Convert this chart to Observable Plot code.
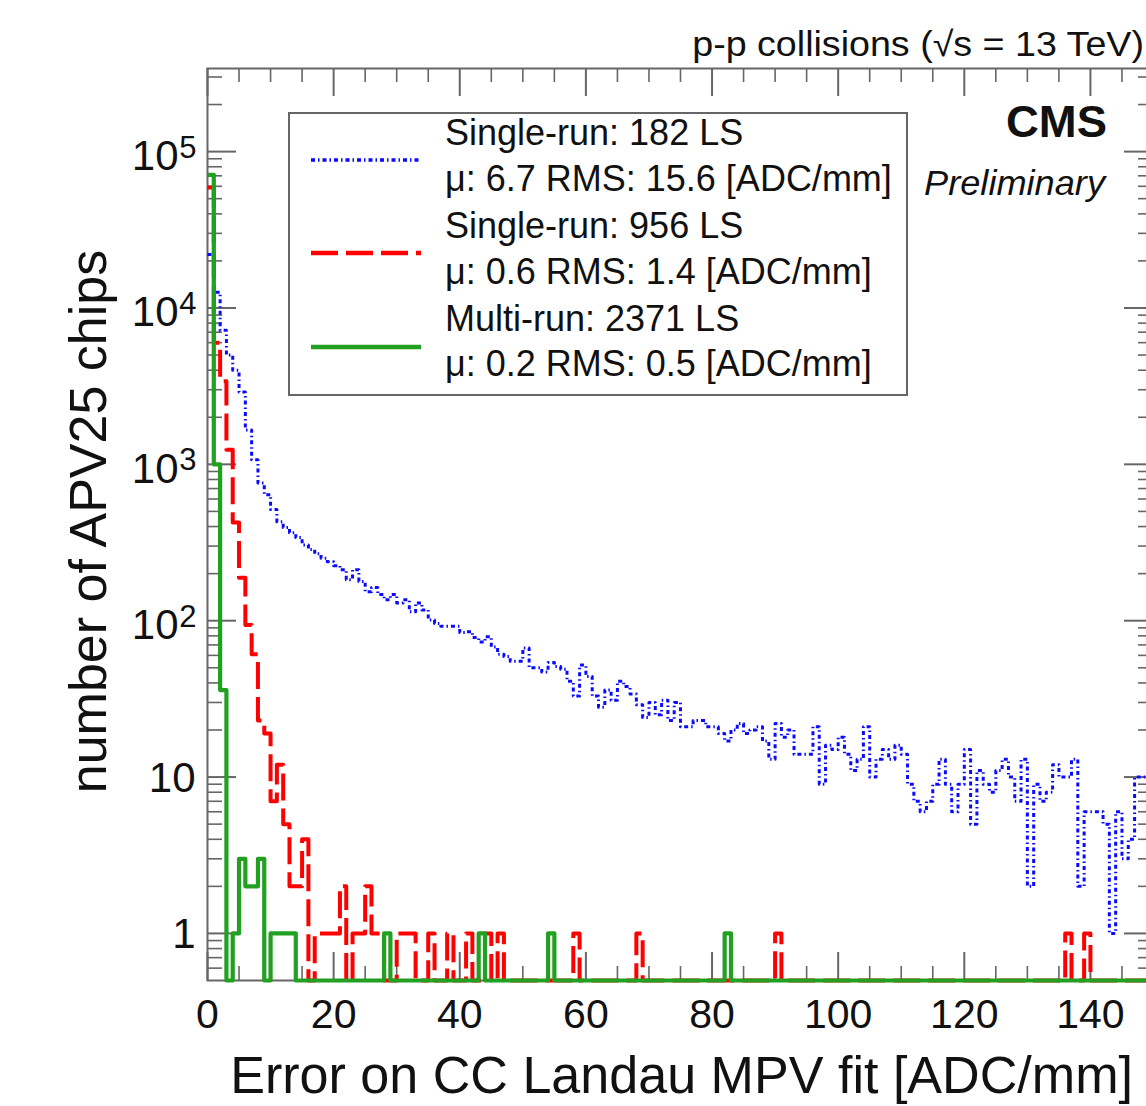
<!DOCTYPE html>
<html><head><meta charset="utf-8">
<script src="https://cdn.jsdelivr.net/npm/d3@7"></script>
<script src="https://cdn.jsdelivr.net/npm/@observablehq/plot@0.6"></script>
<style>
html,body{margin:0;padding:0;background:#fff;}
#chart{width:1146px;height:1106px;overflow:hidden;position:relative;}
</style></head><body><div id="chart"></div>
<script>
// ---------------- data ----------------
const binWidth = 1;          // ADC/mm per bin
const nBins = 150;

const blueCounts = [
  22000,12600,7200,5000,4000,2900,1660,1070,760,640,
  515,430,395,365,340,305,285,268,251,238,
  225,212,183,212,178,153,163,147,136,147,
  130,136,114,130,117,101,96,92,92,92,
  84,85,78,73,79,68,61,59,55,55,
  67,50,50,47,54,51,49,41,33,52,
  44,33,28,36,31,41,38,34,29,24,
  30,25,31,23,30,21,21,23,23,21,
  21,19,17,20,22,19,20,21,17,13,
  22,18,20,14,14,14,21,9,16,15,
  18,14,11,13,21,10,13,15,13,16,
  14,9,7,6,7,9,13,9,6,9,
  15,5,11,9,8,11,13,10,7,13,
  2,9,7,8,12,10,10,13,2,6,
  6,6,5,1,6,3,4,10,10,10
];
const redCounts = [
  59000,6000,3400,1240,425,188,94,61,23,19,
  7,12,5,2,2,4,0,1,1,1,
  1,2,0,1,1,2,1,1,0,0,
  1,1,1,0,0,1,0,0,1,0,
  0,1,0,0,1,0,1,0,0,0,
  0,0,0,0,0,0,0,0,1,0,
  0,0,0,0,0,0,0,0,1,0,
  0,0,0,0,0,0,0,0,0,0,
  0,0,0,0,0,0,0,0,0,0,
  1,0,0,0,0,0,0,0,0,0,
  0,0,0,0,0,0,0,0,0,0,
  0,0,0,0,0,0,0,0,0,0,
  0,0,0,0,0,0,0,0,0,0,
  0,0,0,0,0,0,1,0,0,1,
  0,0,0,0,0,0,0,0,0,0
];
const greenCounts = [
  71000,1000,36,0,1,3,2,2,3,0,
  1,1,1,1,0,0,0,0,0,0,
  0,0,0,0,0,0,0,0,1,0,
  0,0,0,0,0,0,0,0,0,0,
  0,0,0,1,0,0,0,0,0,0,
  0,0,0,0,1,0,0,0,0,0,
  0,0,0,0,0,0,0,0,0,0,
  0,0,0,0,0,0,0,0,0,0,
  0,0,1,0,0,0,0,0,0,0,
  0,0,0,0,0,0,0,0,0,0,
  0,0,0,0,0,0,0,0,0,0,
  0,0,0,0,0,0,0,0,0,0,
  0,0,0,0,0,0,0,0,0,0,
  0,0,0,0,0,0,0,0,0,0,
  0,0,0,0,0,0,0,0,0,0
];

const seriesNames = ["Single-run: 182 LS", "Single-run: 956 LS", "Multi-run: 2371 LS"];
const seriesStats = ["\u03bc: 6.7 RMS: 15.6 [ADC/mm]", "\u03bc: 0.6 RMS: 1.4 [ADC/mm]", "\u03bc: 0.2 RMS: 0.5 [ADC/mm]"];

const xMajorTicks = [0,20,40,60,80,100,120,140];
const xMinorTicks = [5,10,15,25,30,35,45,50,55,65,70,75,85,90,95,105,110,115,125,130,135,145];
const yMajorTicks = [1,10,100,1000,10000,100000];
const yMinorTicks = [0.6,0.7,0.8,0.9,2,3,4,5,6,7,8,9,20,30,40,50,60,70,80,90,
  200,300,400,500,600,700,800,900,2000,3000,4000,5000,6000,7000,8000,9000,
  20000,30000,40000,50000,60000,70000,80000,90000,200000,300000];
const yTickBase = ["1","10","10","10","10","10"];
const yTickExp  = ["","","2","3","4","5"];

const titleText = "p-p collisions (\u221as = 13 TeV)";
const xTitle = "Error on CC Landau MPV fit [ADC/mm]";
const yTitle = "number of APV25 chips";

// ---------------- styles ----------------
const FONT = '"Liberation Sans", Arial, Helvetica, sans-serif';
const styles = [
  {color: "#0a0aff", width: 3,   dash: "4,3,1.5,3"},
  {color: "#ff0000", width: 4,   dash: "27,8"},
  {color: "#22a022", width: 4.2, dash: null}
];
const allCounts = [blueCounts, redCounts, greenCounts];

const W = 1146, H = 1106;
const fL = 207, fR = 1153, fT = 68, fB = 980;
const FW = fR - fL, FH = fB - fT;
const yMin = 0.5, yMax = 3.4e5;

function stepTable(counts) {
  const rows = counts.map((c, i) => ({x: i * binWidth, n: c}));
  rows.push({x: counts.length * binWidth, n: counts[counts.length - 1]});
  return rows;
}
const yOf = d => Math.max(d.n, yMin); // empty bins are drawn on the frame bottom, as ROOT does

const axisColor = "#666";

const plot = Plot.plot({
  width: W, height: H,
  marginLeft: fL, marginRight: W - fR, marginTop: fT, marginBottom: H - fB,
  x: {domain: [0, nBins * binWidth], axis: null},
  y: {type: "log", domain: [yMin, yMax], axis: null},
  style: {fontFamily: FONT, background: "#fff", color: "#000"},
  marks: [
    Plot.frame({stroke: axisColor, strokeWidth: 2}),
    Plot.tickY(yMajorTicks, {y: d => d, stroke: axisColor, strokeWidth: 2, insetRight: FW - 29}),
    Plot.tickY(yMinorTicks, {y: d => d, stroke: axisColor, strokeWidth: 1.6, insetRight: FW - 15}),
    Plot.tickY(yMajorTicks, {y: d => d, stroke: axisColor, strokeWidth: 2, insetLeft: FW - 29}),
    Plot.tickY(yMinorTicks, {y: d => d, stroke: axisColor, strokeWidth: 1.6, insetLeft: FW - 15}),
    Plot.tickX(xMajorTicks, {x: d => d, stroke: axisColor, strokeWidth: 2, insetTop: FH - 28}),
    Plot.tickX(xMinorTicks, {x: d => d, stroke: axisColor, strokeWidth: 1.6, insetTop: FH - 14}),
    Plot.tickX(xMajorTicks, {x: d => d, stroke: axisColor, strokeWidth: 2, insetBottom: FH - 28}),
    Plot.tickX(xMinorTicks, {x: d => d, stroke: axisColor, strokeWidth: 1.6, insetBottom: FH - 14}),
    ...allCounts.map((c, i) => Plot.line(stepTable(c), {
      x: "x", y: yOf, curve: "step-after",
      stroke: styles[i].color, strokeWidth: styles[i].width,
      strokeDasharray: styles[i].dash, strokeLinecap: "butt"
    })),
    // x tick labels
    Plot.text(xMajorTicks, {x: d => d, text: d => String(d), frameAnchor: "bottom", lineAnchor: "top",
      dy: 18, fontSize: 41, fill: "#111"}),
    // y tick labels: plain
    Plot.text(yMajorTicks.slice(0, 2), {y: d => d, text: (d, i) => yTickBase[i], frameAnchor: "left",
      textAnchor: "end", dx: -12, dy: 1, fontSize: 42, fill: "#111"}),
    // y tick labels: powers of ten
    Plot.text(yMajorTicks.slice(2), {y: d => d, text: (d, i) => yTickBase[i + 2], frameAnchor: "left",
      textAnchor: "end", dx: -29, dy: 5, fontSize: 42, fill: "#111"}),
    Plot.text(yMajorTicks.slice(2), {y: d => d, text: (d, i) => yTickExp[i + 2], frameAnchor: "left",
      textAnchor: "end", dx: -11, dy: -4, fontSize: 31, fill: "#111"}),
    // y title
    Plot.text([yTitle], {text: d => d, frameAnchor: "left", textAnchor: "middle", rotate: -90,
      dx: -118, dy: -3, fontSize: 52, fill: "#111"})
  ]
});
document.getElementById("chart").appendChild(plot);

// ---------------- annotations (title, labels, legend) ----------------
const svg = d3.select(plot);
const g = svg.append("g").attr("font-family", FONT).attr("fill", "#111");
function label(str, x, y, size, opts = {}) {
  const t = g.append("text").attr("x", x).attr("y", y).attr("font-size", size)
    .attr("text-anchor", opts.anchor || "start")
    .attr("font-weight", opts.weight || "normal")
    .attr("font-style", opts.style || "normal")
    .text(str);
  if (opts.width) {
    const w = t.node().getComputedTextLength();
    const s = opts.width / w;
    t.attr("transform", `translate(${x},0) scale(${s},1) translate(${-x},0)`);
  }
  return t;
}
label(titleText, 1144, 56, 35, {anchor: "end", width: 452});
label("CMS", 1107, 137, 45, {anchor: "end", weight: "bold", width: 101});
label("Preliminary", 1105, 195, 36, {anchor: "end", style: "italic", width: 181});
label(xTitle, 1133, 1093, 52, {anchor: "end", width: 903});

// legend
const lg = g.append("g");
lg.append("rect").attr("x", 289).attr("y", 113).attr("width", 618).attr("height", 282)
  .attr("fill", "#fff").attr("stroke", axisColor).attr("stroke-width", 2);
const keyY = [160, 253, 347];
const nameY = [145, 238, 331];
const statY = [191, 284, 376];
styles.forEach((s, i) => {
  lg.append("line").attr("x1", 311).attr("x2", 421).attr("y1", keyY[i]).attr("y2", keyY[i])
    .attr("stroke", s.color).attr("stroke-width", s.width + 0.4)
    .attr("stroke-dasharray", s.dash);
  label(seriesNames[i], 445, nameY[i], 36);
  label(seriesStats[i], 445, statY[i], 36);
});
</script></body></html>
